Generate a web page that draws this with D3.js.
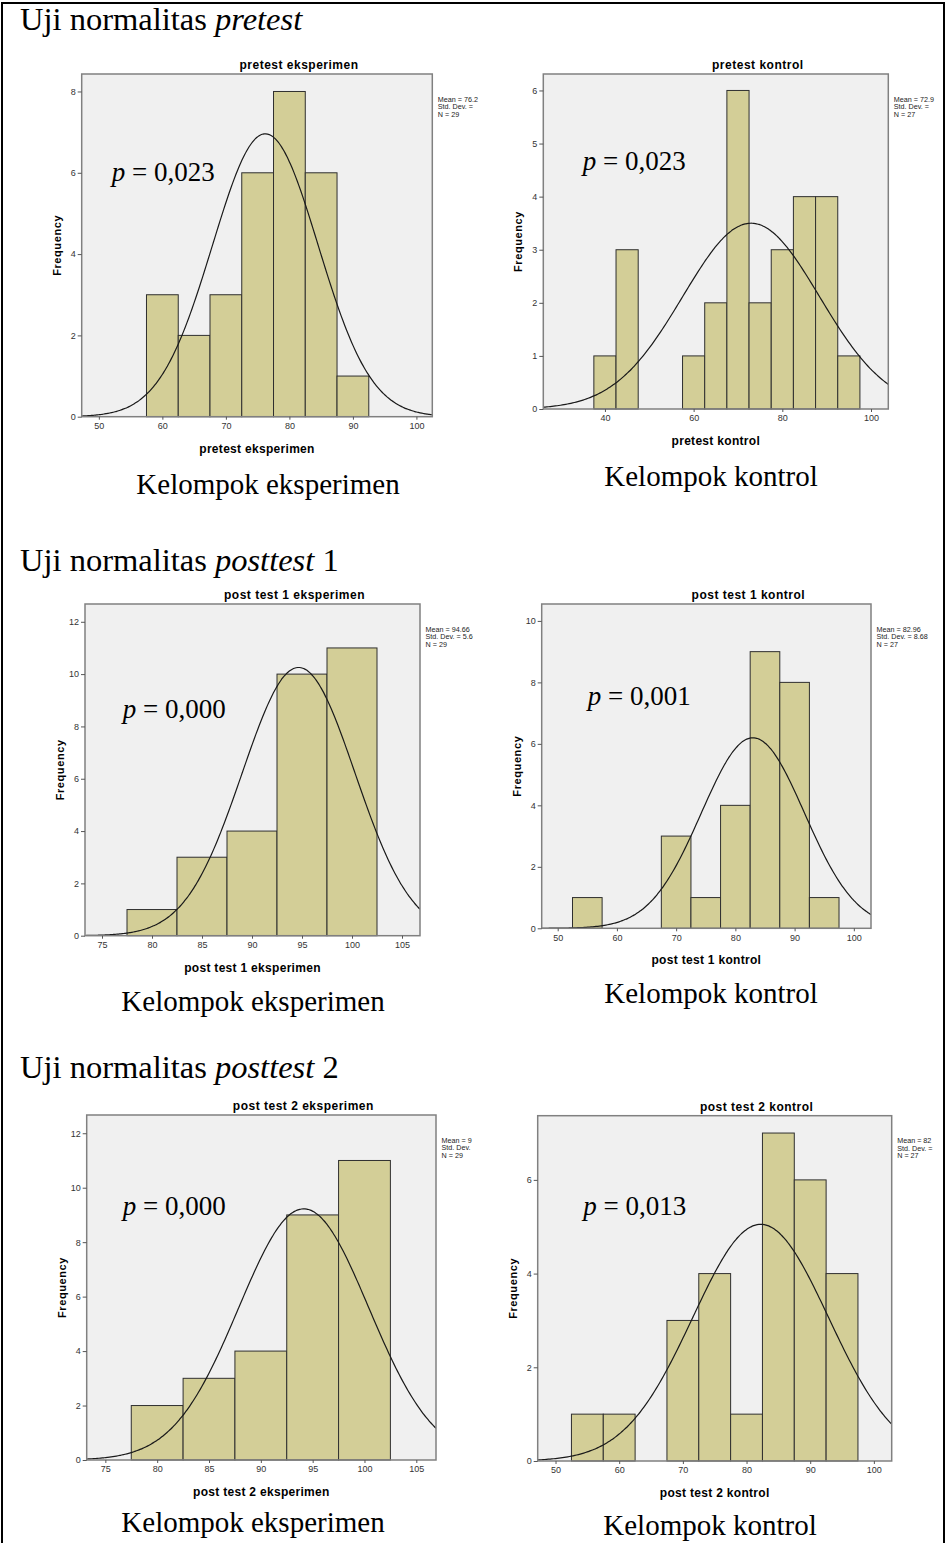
<!DOCTYPE html>
<html>
<head>
<meta charset="utf-8">
<script src="https://cdn.jsdelivr.net/npm/d3@7"></script>
<style>
  body { margin: 0; background: #fff; }
  svg { display: block; }
  .spss text { font-family: "Liberation Sans", Arial, sans-serif; }
  .tick text { font-size: 9px; fill: #333; }
  .tick line { stroke: #555; }
  .serif { font-family: "Liberation Serif", "Times New Roman", serif; fill: #000; }
</style>
</head>
<body>
<svg id="chart"></svg>
<script>
const width = 946;
const height = 1543;

// histogram counts (bin width 5), first bin lower edge in binStart
const pretestEksperimen = [3, 2, 3, 6, 8, 6, 1];
const pretestKontrol = [1, 3, 0, 0, 1, 2, 6, 2, 3, 4, 4, 1];
const post1Eksperimen = [1, 3, 4, 10, 11];
const post1Kontrol = [1, 0, 0, 3, 1, 4, 9, 8, 1];
const post2Eksperimen = [2, 3, 4, 9, 11];
const post2Kontrol = [1, 1, 0, 3, 4, 1, 7, 6, 4];

const panelTitles = ["pretest eksperimen", "pretest kontrol", "post test 1 eksperimen",
  "post test 1 kontrol", "post test 2 eksperimen", "post test 2 kontrol"];
const binStart = [57.5, 37.5, 77.5, 52.5, 77.5, 52.5];
const binWidth = 5;
const means = [76.21, 72.96, 94.66, 82.96, 94.14, 82.22];
const stdDevs = [8.311, 15.389, 5.641, 8.689, 6.271, 10.662];
const ns = [29, 27, 29, 27, 29, 27];
const pValues = ["0,023", "0,023", "0,000", "0,001", "0,000", "0,013"];

// legend text as far as it is visible in the cropped SPSS images
const statLines = [
  ["Mean = 76.2", "Std. Dev. =", "N = 29"],
  ["Mean = 72.9", "Std. Dev. =", "N = 27"],
  ["Mean = 94.66", "Std. Dev. = 5.6", "N = 29"],
  ["Mean = 82.96", "Std. Dev. = 8.68", "N = 27"],
  ["Mean = 9", "Std. Dev.", "N = 29"],
  ["Mean = 82", "Std. Dev. =", "N = 27"]
];

const xTicks = [
  [50, 60, 70, 80, 90, 100],
  [40, 60, 80, 100],
  [75, 80, 85, 90, 95, 100, 105],
  [50, 60, 70, 80, 90, 100],
  [75, 80, 85, 90, 95, 100, 105],
  [50, 60, 70, 80, 90, 100]
];
const yTicks = [
  [0, 2, 4, 6, 8],
  [0, 1, 2, 3, 4, 5, 6],
  [0, 2, 4, 6, 8, 10, 12],
  [0, 2, 4, 6, 8, 10],
  [0, 2, 4, 6, 8, 10, 12],
  [0, 2, 4, 6]
];

const rowHeadings = [["Uji normalitas ", "pretest", ""], ["Uji normalitas ", "posttest", " 1"], ["Uji normalitas ", "posttest", " 2"]];
const groupLabels = ["Kelompok eksperimen", "Kelompok kontrol"];

const allCounts = [pretestEksperimen, pretestKontrol, post1Eksperimen, post1Kontrol, post2Eksperimen, post2Kontrol];

// layout of each plot frame (pixels) and its axis domain
const frames = [
  { l: 81.7, r: 432.3, t: 74, b: 416.7, x0: 47.3, x1: 102.5, yMax: 8.43, px: 111.7, py: 181, lx: 268, ly: 494 },
  { l: 543.3, r: 888.3, t: 74, b: 409, x0: 26.1, x1: 103.9, yMax: 6.31, px: 582.7, py: 170, lx: 711, ly: 486 },
  { l: 85, r: 420, t: 604, b: 935.7, x0: 73.3, x1: 106.8, yMax: 12.68, px: 122.7, py: 717.7, lx: 253, ly: 1011 },
  { l: 541.7, r: 871, t: 604, b: 928.3, x0: 47.3, x1: 102.9, yMax: 10.55, px: 587.7, py: 705, lx: 711, ly: 1003 },
  { l: 86.7, r: 436, t: 1115, b: 1460, x0: 73.2, x1: 106.9, yMax: 12.67, px: 122.7, py: 1215, lx: 253, ly: 1532 },
  { l: 537.7, r: 891.7, t: 1115.7, b: 1461, x0: 47.2, x1: 102.8, yMax: 7.37, px: 583.3, py: 1215, lx: 710, ly: 1535 }
];
const headingY = [30, 571, 1078];

const svg = d3.select("#chart")
  .attr("width", width)
  .attr("height", height);

// page border
svg.append("path")
  .attr("d", `M2,${height} V3 H944 V${height}`)
  .attr("fill", "none")
  .attr("stroke", "#000")
  .attr("stroke-width", 2);

// row headings
rowHeadings.forEach((h, i) => {
  const t = svg.append("text")
    .attr("class", "serif")
    .attr("x", 20)
    .attr("y", headingY[i])
    .style("font-size", "32.5px");
  t.append("tspan").text(h[0]);
  t.append("tspan").style("font-style", "italic").text(h[1]);
  if (h[2]) t.append("tspan").text(h[2]);
});

const defs = svg.append("defs");

frames.forEach((f, i) => {
  const counts = allCounts[i];
  const bins = counts.map((c, j) => ({ lo: binStart[i] + j * binWidth, hi: binStart[i] + (j + 1) * binWidth, c }))
    .filter(d => d.c > 0);

  const x = d3.scaleLinear().domain([f.x0, f.x1]).range([f.l, f.r]);
  const y = d3.scaleLinear().domain([0, f.yMax]).range([f.b, f.t]);

  const g = svg.append("g").attr("class", "spss");

  defs.append("clipPath").attr("id", "plot" + i)
    .append("rect").attr("x", f.l).attr("y", f.t).attr("width", f.r - f.l).attr("height", f.b - f.t);

  g.append("rect")
    .attr("x", f.l).attr("y", f.t)
    .attr("width", f.r - f.l).attr("height", f.b - f.t)
    .attr("fill", "#f0f0f0");

  g.selectAll("rect.bar")
    .data(bins)
    .enter()
    .append("rect")
    .attr("class", "bar")
    .attr("x", d => x(d.lo))
    .attr("y", d => y(d.c))
    .attr("width", d => x(d.hi) - x(d.lo))
    .attr("height", d => y(0) - y(d.c))
    .attr("fill", "#d3ce97")
    .attr("stroke", "#2f2f2f")
    .attr("stroke-width", 1);

  // normal curve scaled to counts
  const scale = ns[i] * binWidth / (stdDevs[i] * Math.sqrt(2 * Math.PI));
  const pts = d3.range(0, 201).map(k => f.x0 + (f.x1 - f.x0) * k / 200);
  const line = d3.line()
    .x(v => x(v))
    .y(v => y(scale * Math.exp(-0.5 * Math.pow((v - means[i]) / stdDevs[i], 2))))
    .curve(d3.curveBasis);
  g.append("path")
    .datum(pts)
    .attr("d", line)
    .attr("clip-path", `url(#plot${i})`)
    .attr("fill", "none")
    .attr("stroke", "#1a1a1a")
    .attr("stroke-width", 1.2);

  g.append("rect")
    .attr("x", f.l).attr("y", f.t)
    .attr("width", f.r - f.l).attr("height", f.b - f.t)
    .attr("fill", "none")
    .attr("stroke", "#808080")
    .attr("stroke-width", 1.5);

  const yAxis = g.append("g")
    .attr("transform", `translate(${f.l},0)`)
    .call(d3.axisLeft(y).tickValues(yTicks[i]).tickFormat(d3.format("d")).tickSize(4).tickPadding(2));
  yAxis.select(".domain").remove();

  const xAxis = g.append("g")
    .attr("transform", `translate(0,${f.b})`)
    .call(d3.axisBottom(x).tickValues(xTicks[i]).tickFormat(d3.format("d")).tickSize(3).tickPadding(3));
  xAxis.select(".domain").remove();

  g.append("text")
    .attr("x", (f.l + f.r) / 2 + 42)
    .attr("y", f.t - 5)
    .attr("text-anchor", "middle")
    .style("font-size", "12px")
    .style("font-weight", "bold")
    .style("letter-spacing", "0.5px")
    .text(panelTitles[i]);

  g.append("text")
    .attr("x", (f.l + f.r) / 2)
    .attr("y", f.b + 36)
    .attr("text-anchor", "middle")
    .style("font-size", "12px")
    .style("font-weight", "bold")
    .style("letter-spacing", "0.3px")
    .text(panelTitles[i]);

  g.append("text")
    .attr("transform", `translate(${f.l - 21},${(f.t + f.b) / 2}) rotate(-90)`)
    .attr("text-anchor", "middle")
    .style("font-size", "11px")
    .style("font-weight", "bold")
    .style("letter-spacing", "0.6px")
    .text("Frequency");

  const stats = g.append("text")
    .style("font-size", "7.2px")
    .attr("fill", "#222");
  statLines[i].forEach((s, k) => {
    stats.append("tspan").attr("x", f.r + 5.5).attr("y", f.t + 27.5 + k * 7.6).text(s);
  });

  // p-value annotation
  const p = svg.append("text")
    .attr("class", "serif")
    .attr("x", f.px)
    .attr("y", f.py)
    .style("font-size", "27px");
  p.append("tspan").style("font-style", "italic").text("p");
  p.append("tspan").text(" = " + pValues[i]);

  svg.append("text")
    .attr("class", "serif")
    .attr("x", f.lx)
    .attr("y", f.ly)
    .attr("text-anchor", "middle")
    .style("font-size", "29px")
    .text(groupLabels[i % 2]);
});
</script>
</body>
</html>
